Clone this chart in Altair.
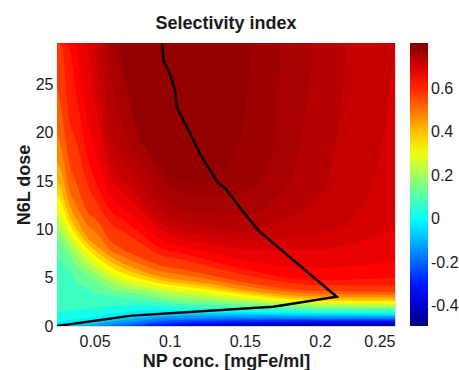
import altair as alt
import pandas as pd

# ---- data ----------------------------------------------------------------
# Filled-contour levels of the selectivity index: for each level, the N6L dose
# (y) of the contour line at a set of NP concentrations (x). Region above the
# line has index >= level.
x_low = [0.025, 0.028, 0.0325, 0.038, 0.0445, 0.052, 0.0605, 0.07, 0.081,
         0.0935, 0.1075, 0.1225, 0.1525, 0.1975, 0.25]

lv_m045 = [0, 0, 0, 0, 0, 0, 0, 0, 0, 0, 0, 0, 0, 0.08, 0.1]
lv_m040 = [0, 0, 0, 0, 0, 0, 0, 0, 0, 0, 0, 0, 0.11, 0.2, 0.23]
lv_m035 = [0, 0, 0, 0, 0, 0, 0, 0, 0, 0, 0, 0.11, 0.25, 0.33, 0.35]
lv_m030 = [0, 0, 0, 0, 0, 0, 0, 0, 0, 0.05, 0.21, 0.3, 0.4, 0.46, 0.48]
lv_m025 = [0, 0, 0, 0, 0, 0, 0, 0, 0.04, 0.3, 0.42, 0.49, 0.57, 0.59, 0.6]
lv_m020 = [0, 0, 0, 0, 0, 0, 0, 0.06, 0.27, 0.53, 0.62, 0.68, 0.73, 0.72, 0.73]
lv_m015 = [0, 0, 0, 0, 0, 0, 0.13, 0.33, 0.52, 0.77, 0.82, 0.86, 0.9, 0.86, 0.86]
lv_m010 = [0, 0, 0, 0, 0.07, 0.25, 0.44, 0.63, 0.82, 1.01, 1.06, 1.09, 1.08, 1.02, 1.01]
lv_m005 = [0, 0, 0.17, 0.29, 0.43, 0.57, 0.79, 0.94, 1.2, 1.33, 1.33, 1.32, 1.27, 1.19, 1.15]
lv_p000 = [0.4, 0.5, 0.61, 0.7, 0.83, 0.93, 1.29, 1.4, 1.62, 1.65, 1.6, 1.55, 1.45, 1.35, 1.3]
lv_p005 = [1.5, 1.5, 1.6, 1.67, 1.75, 1.8, 2.0, 2.1, 2.2, 2.07, 1.93, 1.85, 1.7, 1.53, 1.48]
lv_p010 = [7.2, 6.5, 6.0, 4.5, 4.0, 3.33, 3.1, 2.9, 2.7, 2.48, 2.27, 2.15, 1.95, 1.72, 1.67]
lv_p015 = [9.14, 8.43, 7.5, 6.2, 5.33, 4.6, 3.83, 3.5, 3.3, 2.89, 2.6, 2.45, 2.2, 1.9, 1.85]
lv_p020 = [10.38, 9.5, 8.43, 7.23, 6.14, 5.35, 4.46, 3.97, 3.72, 3.28, 3.0, 2.82, 2.45, 2.08, 2.02]
lv_p025 = [11.34, 10.5, 9.25, 8.11, 6.82, 5.92, 5.03, 4.43, 4.1, 3.69, 3.4, 3.18, 2.7, 2.27, 2.18]
lv_p030 = [12.3, 11.5, 10.0, 8.7, 7.5, 6.5, 5.6, 4.9, 4.5, 4.1, 3.8, 3.55, 2.95, 2.45, 2.35]
lv_p035 = [13.65, 12.75, 10.83, 9.39, 8.1, 7.07, 6.13, 5.4, 4.9, 4.43, 4.12, 3.85, 3.18, 2.64, 2.54]
lv_p040 = [15.0, 14.0, 11.67, 10.08, 8.7, 7.63, 6.67, 5.9, 5.3, 4.77, 4.43, 4.15, 3.41, 2.83, 2.73]
lv_p045 = [17.14, 15.9, 12.94, 11.06, 9.3, 8.2, 7.2, 6.4, 5.7, 5.1, 4.75, 4.45, 3.68, 3.06, 2.97]
lv_p050 = [20.0, 18.33, 14.5, 12.44, 10.65, 9.48, 7.85, 7.13, 6.38, 5.7, 5.33, 4.93, 4.06, 3.35, 3.25]
lv_p055 = [24.9, 22.33, 17.42, 14.8, 12.0, 10.86, 8.84, 7.85, 7.06, 6.3, 5.9, 5.41, 4.45, 3.64, 3.54]
lv_p060 = [29.3, 29.0, 22.0, 19.0, 15.0, 12.64, 10.67, 9.67, 8.53, 7.37, 6.9, 6.29, 5.2, 4.23, 4.2]

x_p063 = [0.028, 0.0325, 0.038, 0.0445, 0.052, 0.0605, 0.07, 0.081, 0.0935, 0.1075, 0.1225, 0.1525, 0.1975, 0.25]
lv_p063 = [29.3, 29.0, 24.0, 18.0, 14.5, 12.0, 10.9, 9.56, 8.1, 7.54, 6.97, 5.8, 4.72, 5.0]
x_p066 = [0.038, 0.0445, 0.052, 0.0605, 0.07, 0.081, 0.0935, 0.1075, 0.1225, 0.1525, 0.1975, 0.25]
lv_p066 = [29.3, 22.0, 17.33, 13.5, 12.1, 10.64, 9.0, 8.26, 7.78, 6.7, 6.02, 6.71]
x_p069 = [0.0445, 0.052, 0.0605, 0.07, 0.081, 0.0935, 0.1075, 0.1225, 0.1525, 0.1975, 0.22, 0.25]
lv_p069 = [29.3, 22.0, 15.5, 13.75, 12.0, 10.06, 9.17, 8.69, 7.92, 7.86, 8.5, 10.0]
x_p071 = [0.05, 0.0605, 0.07, 0.081, 0.0935, 0.1075, 0.1225, 0.1525, 0.1975, 0.22, 0.238, 0.25]
lv_p071 = [29.3, 17.0, 15.0, 13.0, 10.81, 9.83, 9.44, 8.85, 9.57, 10.9, 16.0, 29.3]
x_p073 = [0.055, 0.0605, 0.07, 0.081, 0.0935, 0.1075, 0.1225, 0.1525, 0.1675, 0.1975, 0.21, 0.218]
lv_p073 = [29.3, 19.67, 17.0, 14.71, 12.0, 10.86, 10.33, 9.77, 10.5, 13.0, 18.0, 29.3]
x_p075 = [0.058, 0.0605, 0.07, 0.081, 0.0935, 0.1075, 0.1225, 0.1375, 0.1525, 0.1675, 0.1825, 0.19, 0.196]
lv_p075 = [29.3, 26.3, 20.0, 17.0, 13.6, 12.0, 11.67, 11.48, 11.5, 12.83, 15.7, 22.0, 29.3]
x_p0765 = [0.062, 0.07, 0.081, 0.0935, 0.1075, 0.1225, 0.1375, 0.1525, 0.1675, 0.174]
lv_p0765 = [29.3, 25.5, 20.0, 15.4, 13.9, 13.35, 13.4, 14.0, 17.0, 29.3]
x_p0775 = [0.066, 0.075, 0.09, 0.105, 0.118, 0.13, 0.142, 0.15, 0.155]
lv_p0775 = [29.3, 22.0, 17.0, 15.2, 14.8, 15.3, 17.5, 22.0, 29.3]

# index value painted in each band (lowest band first)
band_base = -0.47
band_vals = [-0.425, -0.375, -0.325, -0.275, -0.225, -0.175, -0.125, -0.075, -0.025,
             0.025, 0.075, 0.125, 0.175, 0.225, 0.275, 0.325, 0.375, 0.425, 0.475,
             0.525, 0.575, 0.615, 0.645, 0.675, 0.70, 0.72, 0.74, 0.757, 0.77, 0.785]

# optimal path (black line)
path_np = [0.025, 0.0747, 0.169, 0.2112, 0.159, 0.148, 0.1368, 0.1324, 0.1213, 0.1147,
           0.1091, 0.1047, 0.1036, 0.1002, 0.0958, 0.0951]
path_dose = [0.0, 1.07, 2.0, 3.03, 9.9, 12.0, 14.3, 14.8, 17.5, 19.6,
             21.3, 22.7, 24.4, 26.1, 27.5, 29.3]

x_ticks = [0.05, 0.1, 0.15, 0.2, 0.25]
y_ticks = [0, 5, 10, 15, 20, 25]
cbar_ticks = [-0.4, -0.2, 0, 0.2, 0.4, 0.6]

x_range = [0.025, 0.25]
y_range = [0, 29.3]
c_range = [-0.49, 0.81]

# ---- build chart -----------------------------------------------------------
contours = [(x_low, lv) for lv in [lv_m045, lv_m040, lv_m035, lv_m030, lv_m025, lv_m020,
                                   lv_m015, lv_m010, lv_m005, lv_p000, lv_p005, lv_p010,
                                   lv_p015, lv_p020, lv_p025, lv_p030, lv_p035, lv_p040,
                                   lv_p045, lv_p050, lv_p055, lv_p060]]
contours += [(x_p063, lv_p063), (x_p066, lv_p066), (x_p069, lv_p069), (x_p071, lv_p071),
             (x_p073, lv_p073), (x_p075, lv_p075), (x_p0765, lv_p0765), (x_p0775, lv_p0775)]

# jet colour map stops spread over the colour-bar range
lo, hi = c_range
span = hi - lo
jet_domain = [lo, lo + 0.125 * span, lo + 0.375 * span, lo + 0.625 * span, lo + 0.875 * span, hi]
jet_range = ["#000080", "#0000ff", "#00ffff", "#ffff00", "#ff0000", "#800000"]

FONT = "Liberation Sans"
TXT = "#1a1a1a"

xs = alt.Scale(domain=x_range, nice=False, zero=False)
ys = alt.Scale(domain=y_range, nice=False, zero=False)
cs = alt.Scale(domain=jet_domain, range=jet_range, interpolate="rgb")

x_axis = alt.Axis(values=x_ticks, format=".2~f", ticks=False, domain=False, grid=False,
                  labelFontSize=16, labelPadding=7, labelColor=TXT, labelFont=FONT,
                  titleFontSize=18, titleFontWeight="bold", titleColor=TXT, titleFont=FONT,
                  titleBaseline="alphabetic", titleY=40)
y_axis = alt.Axis(values=y_ticks, format="d", ticks=False, domain=False, grid=False,
                  labelFontSize=16, labelPadding=4, labelColor=TXT, labelFont=FONT,
                  titleFontSize=18, titleFontWeight="bold", titleColor=TXT, titleFont=FONT,
                  titleAngle=270, titleBaseline="alphabetic", titleX=-28)
legend = alt.Legend(title=None, type="gradient", values=cbar_ticks, orient="right",
                    direction="vertical", gradientLength=283, gradientThickness=18,
                    offset=15, padding=0, labelFontSize=16, labelOffset=3,
                    labelColor=TXT, labelFont=FONT,
                    labelExpr="replace(format(datum.value, '.1~f'), '\u2212', '-')")

X_ENC = alt.X("np:Q", scale=xs, axis=x_axis, title="NP conc. [mgFe/ml]")
Y_ENC = alt.Y("dose:Q", scale=ys, axis=y_axis, title="N6L dose")
C_ENC = alt.Color("v:Q", scale=cs, legend=legend)

base_df = pd.DataFrame({"np": [x_range[0], x_range[1]], "dose": [y_range[0], y_range[0]],
                        "top": [y_range[1], y_range[1]], "v": [band_base, band_base]})
layers = [alt.Chart(base_df).mark_area(strokeWidth=0).encode(
    x=X_ENC, y=Y_ENC, y2=alt.Y2("top:Q"), color=C_ENC)]

for (cx, cy), bv in zip(contours, band_vals):
    d = pd.DataFrame({"np": cx, "dose": cy, "top": [y_range[1]] * len(cx), "v": [bv] * len(cx)})
    layers.append(alt.Chart(d).mark_area(interpolate="monotone", strokeWidth=0, clip=True).encode(
        x=X_ENC, y=Y_ENC, y2=alt.Y2("top:Q"), color=C_ENC))

path_df = pd.DataFrame({"np": path_np, "dose": path_dose, "k": list(range(len(path_np)))})
layers.append(alt.Chart(path_df).mark_line(color="black", strokeWidth=2.4, clip=True).encode(
    x=X_ENC, y=Y_ENC, order=alt.Order("k:Q")))

chart = alt.layer(*layers).properties(
    width=338, height=283,
    title=alt.TitleParams("Selectivity index", fontSize=18, fontWeight="bold", font=FONT,
                          color=TXT, anchor="middle", baseline="alphabetic", offset=13, dy=17),
    autosize=alt.AutoSizeParams(type="none"),
    padding={"left": 57, "top": 43, "right": 64, "bottom": 44},
).configure_view(strokeWidth=0).configure(background="white")

chart.save("out.html", embed_options={"renderer": "svg", "actions": False})
